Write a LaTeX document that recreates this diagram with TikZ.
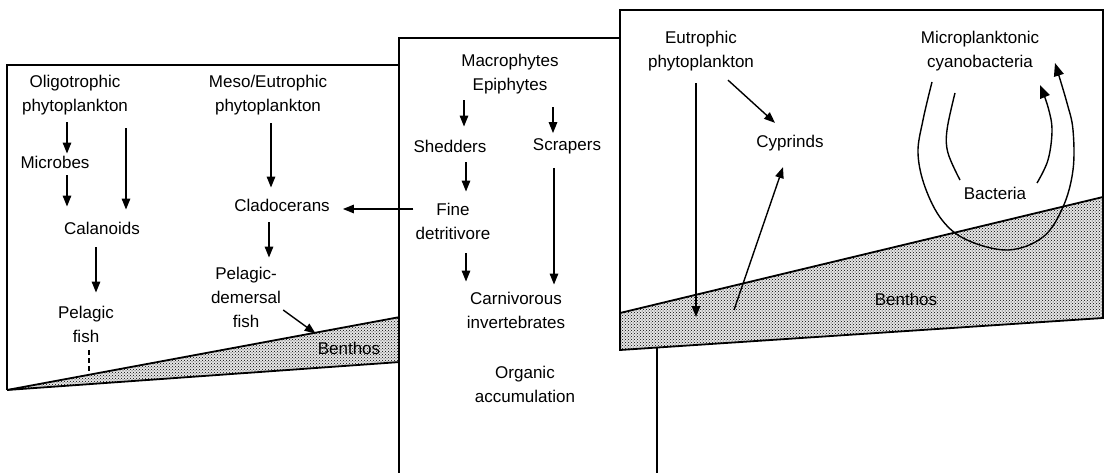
\documentclass[tikz,border=0pt]{standalone}
\usepackage{fontspec}
\setmainfont{Liberation Sans}
\usetikzlibrary{arrows.meta,patterns}
\begin{document}
\begin{tikzpicture}[x=1pt,y=-1pt,
  lbl/.style={font=\fontsize{17}{24}\selectfont, align=center, inner sep=2pt},
  arr/.style={line width=1.4pt, -{Triangle[length=11pt,width=8.5pt]}},
  bigarr/.style={line width=1.4pt, -{Triangle[length=13pt,width=10pt]}},
  edge/.style={line width=1.8pt},
  ground/.style={preaction={fill=black!10}, pattern=crosshatch dots, pattern color=black},
]
\useasboundingbox (0,0) rectangle (1109,473);

% ---------- left panel ----------
\draw[edge] (399,65) -- (7,65) -- (7,390);
\fill[ground] (7,390) -- (400,317) -- (400,362) -- cycle;
\draw[edge] (7,390) -- (400,317);
\draw[edge] (7,390) -- (400,362);

% ---------- middle panel ----------
\fill[white] (399,38) rectangle (657,473);
\draw[edge] (399,473) -- (399,38) -- (620,38);

% ---------- right panel ----------
\fill[white] (620,10) -- (1103,10) -- (1103,318) -- (620,350) -- cycle;
\fill[ground] (620,313) -- (1103,197) -- (1103,318) -- (620,350) -- cycle;
\draw[edge] (620,313) -- (1103,197);
\draw[edge] (620,10) -- (1103,10) -- (1103,318) -- (620,350) -- cycle;
\draw[edge] (657,347.5) -- (657,473);

% ---------- nodes ----------
\node[lbl] (oligo) at (75,95) {Oligotrophic\\phytoplankton};
\node[lbl] (micro) at (55,162) {Microbes};
\node[lbl] (calan) at (102,228) {Calanoids};
\node[lbl] (pfish) at (86,324) {Pelagic\\fish};
\node[lbl] (meso) at (268,95) {Meso/Eutrophic\\phytoplankton};
\node[lbl] (clado) at (282,205) {Cladocerans};
\node[lbl] (pdf) at (246,297) {Pelagic-\\demersal\\fish};
\node[lbl] (benthA) at (349,348) {Benthos};
\node[lbl] (macro) at (510,74) {Macrophytes\\Epiphytes};
\node[lbl] (shed) at (450,146) {Shedders};
\node[lbl] (scrap) at (567,146) {Scrapers};
\node[lbl] (fine) at (453,221) {Fine\\detritivore};
\node[lbl] (carn) at (516,310) {Carnivorous\\invertebrates};
\node[lbl] (organic) at (525,384) {Organic\\accumulation};
\node[lbl] (eutro) at (701,51) {Eutrophic\\phytoplankton};
\node[lbl] (cypr) at (790,143) {Cyprinds};
\node[lbl] (micropl) at (980,51) {Microplanktonic\\cyanobacteria};
\node[lbl] (bact) at (995,193) {Bacteria};
\node[lbl] (benthB) at (906,299) {Benthos};

\coordinate (dashend) at (89,375);
\coordinate (eutroend) at (696,317);
\coordinate (cyprstart) at (734,310);

% ---------- left arrows ----------
\draw[arr, shorten <=5pt] (oligo.south -| 67,0) -- (micro.north -| 67,0);
\draw[arr, shorten <=5pt, shorten >=13pt] (micro.south -| 67,0) -- (calan.north -| 67,0);
\draw[arr, shorten <=11pt, shorten >=10pt] (oligo.south -| 126,0) -- (calan.north -| 126,0);
\draw[arr, shorten <=11pt, shorten >=11pt] (calan.south -| 96,0) -- (pfish.north -| 96,0);
\draw[line width=1.4pt, dash pattern=on 5pt off 3pt, shorten <=6pt] (pfish.south -| 89,0) -- (dashend);
\draw[arr, shorten <=6pt, shorten >=9pt] (meso.south -| 271,0) -- (clado.north -| 271,0);
\draw[arr, shorten <=9pt, shorten >=7pt] (clado.south -| 269,0) -- (pdf.north -| 269,0);
\draw[arr] ([yshift=-13pt]pdf.east) -- ([yshift=6pt]benthA.north west);
\draw[arr, shorten >=11pt] ([yshift=12pt]fine.west) -- ([yshift=-4pt]clado.east);

% ---------- middle arrows ----------
\draw[arr, shorten <=4pt, shorten >=11pt] (macro.south -| 464,0) -- (shed.north -| 464,0);
\draw[arr, shorten <=11pt, shorten >=3pt] (macro.south -| 553,0) -- (scrap.north -| 553,0);
\draw[arr, shorten <=8pt, shorten >=9pt] (shed.south -| 466,0) -- (fine.north -| 466,0);
\draw[arr, shorten <=12pt, shorten >=8pt] (fine.south -| 466,0) -- (carn.north -| 466,0);
\draw[arr, shorten <=12pt, shorten >=5pt] (scrap.south -| 554,0) -- (carn.north -| 554,0);

% ---------- right arrows ----------
\draw[arr, shorten <=10pt] (eutro.south -| 696,0) -- (eutroend);
\draw[arr] ([xshift=27pt,yshift=-7pt]eutro.south) -- ([xshift=-15pt,yshift=10pt]cypr.north);
\draw[arr] (cyprstart) -- ([xshift=-7pt,yshift=-14pt]cypr.south);

% loops between cyanobacteria and bacteria
\draw[bigarr] plot[smooth, tension=0.6] coordinates {(932,82) (923,120) (918,153) (925,187) (942,220) (967,240) (1008,250) (1043,237) (1063,207) (1073,170) (1073,130) (1067,103) (1055,63)};
\draw[line width=1.4pt] plot[smooth, tension=0.6] coordinates {(955,93) (947,130) (948,153) (960,180)};
\draw[bigarr] plot[smooth, tension=0.6] coordinates {(1037,183) (1048,160) (1052,130) (1048,107) (1040,85)};
\end{tikzpicture}
\end{document}
